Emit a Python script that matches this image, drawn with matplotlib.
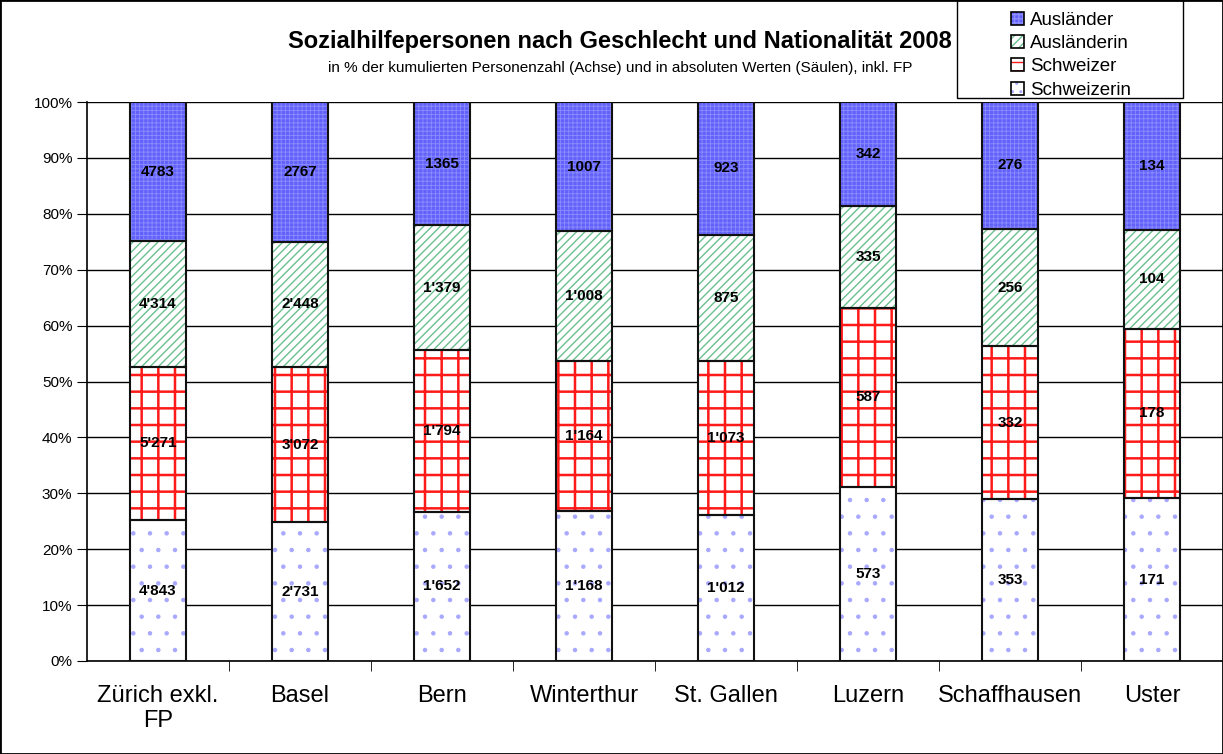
import numpy as np
import matplotlib
matplotlib.use("Agg")
import matplotlib.pyplot as plt
from matplotlib.patches import Patch, Rectangle
from matplotlib.legend_handler import HandlerTuple

plt.rcParams['font.family'] = ['Liberation Sans', 'DejaVu Sans']

# Daten
staedte = ["Zürich exkl.\nFP", "Basel", "Bern", "Winterthur", "St. Gallen",
           "Luzern", "Schaffhausen", "Uster"]
schweizerin = [4843, 2731, 1652, 1168, 1012, 573, 353, 171]
schweizer = [5271, 3072, 1794, 1164, 1073, 587, 332, 178]
auslaenderin = [4314, 2448, 1379, 1008, 875, 335, 256, 104]
auslaender = [4783, 2767, 1365, 1007, 923, 342, 276, 134]

# name, werte, fuellfarbe, schraffurfarbe, schraffur, legenden-schraffur, strichstaerke, tausendertrenner
serien = [
    ("Schweizerin", schweizerin, "white", "#a8a8ff", ".", "..", 0.8, True),
    ("Schweizer", schweizer, "white", "#ff1a1a", "+", "--", 1.8, True),
    ("Ausländerin", auslaenderin, "white", "#6cc090", "////", "////", 1.0, True),
    ("Ausländer", auslaender, "#6262fa", "#8c8cff", "++++", "++++", 0.6, False),
]

def fmt(v, sep):
    s = f"{v:,}"
    return s.replace(",", "'") if sep else s.replace(",", "")

fig = plt.figure(figsize=(12.23, 7.54), dpi=100)
ax = fig.add_axes([87 / 1223, 1 - 661 / 754, 1136 / 1223, 559 / 754])

x = np.arange(len(staedte))
total = np.array(schweizerin) + np.array(schweizer) + np.array(auslaenderin) + np.array(auslaender)
unten = np.zeros(len(staedte))
breite = 0.40
for name, werte, fc, hc, hatch, lhatch, hlw, sep in serien:
    anteil = np.array(werte) / total * 100
    with plt.rc_context({"hatch.linewidth": hlw}):
        ax.bar(x, anteil, breite, bottom=unten, color=fc, edgecolor=hc, hatch=hatch,
               linewidth=0, zorder=2)
    ax.bar(x, anteil, breite, bottom=unten, fill=False, edgecolor="#111111",
           linewidth=1.5, zorder=3)
    for xi, b, a, v in zip(x, unten, anteil, werte):
        ax.text(xi, b + a / 2, fmt(v, sep), ha="center", va="center",
                fontsize=11, fontweight="bold", zorder=4)
    unten = unten + anteil

ax.set_xlim(-0.5, 7.5)
ax.set_ylim(0, 100)
ax.set_yticks(np.arange(0, 101, 10))
ax.set_yticklabels([f"{v}%" for v in range(0, 101, 10)], fontsize=11)
ax.yaxis.grid(True, color="black", linewidth=1.0)
ax.set_axisbelow(True)
ax.set_xticks(x)
ax.set_xticklabels(staedte, fontsize=17)
ax.tick_params(axis="x", length=0, pad=17)
ax.set_xticks(np.arange(0.5, 7.6, 1), minor=True)
ax.tick_params(axis="x", which="minor", length=7, color="black")
ax.tick_params(axis="y", length=7, color="black")
for s in ["top", "right"]:
    ax.spines[s].set_visible(False)
ax.spines["left"].set_linewidth(1.2)
ax.spines["bottom"].set_linewidth(1.2)

fig.text(0.507, 0.945, "Sozialhilfepersonen nach Geschlecht und Nationalität 2008",
         ha="center", va="center", fontsize=17, fontweight="bold")
fig.text(0.507, 0.910, "in % der kumulierten Personenzahl (Achse) und in absoluten Werten (Säulen), inkl. FP",
         ha="center", va="center", fontsize=11)

# Legende
handles, labels = [], []
for name, _, fc, hc, hatch, lhatch, hlw, sep in reversed(serien):
    with plt.rc_context({"hatch.linewidth": hlw}):
        fuell = Patch(facecolor=fc, edgecolor=hc, hatch=lhatch, linewidth=0)
    rand = Patch(fill=False, edgecolor="black", linewidth=1.2)
    handles.append((fuell, rand))
    labels.append(name)
leg = fig.legend(handles, labels, loc="upper left", bbox_to_anchor=(998 / 1223, 1.002),
                 fontsize=13.5, frameon=False,
                 handler_map={tuple: HandlerTuple(ndivide=1, pad=0)},
                 handlelength=0.7, handleheight=0.7, handletextpad=0.3,
                 labelspacing=0.33, borderpad=0.2)
fig.patches.append(Rectangle((957 / 1223, 1 - 98 / 754), 226 / 1223, 98 / 754,
                             transform=fig.transFigure, fill=True, facecolor="white",
                             edgecolor="black", linewidth=1.0, zorder=0))

fig.patches.append(Rectangle((0, 0), 1, 1, transform=fig.transFigure, fill=False,
                             edgecolor="black", linewidth=2))

fig.savefig("out.png", dpi=100)
